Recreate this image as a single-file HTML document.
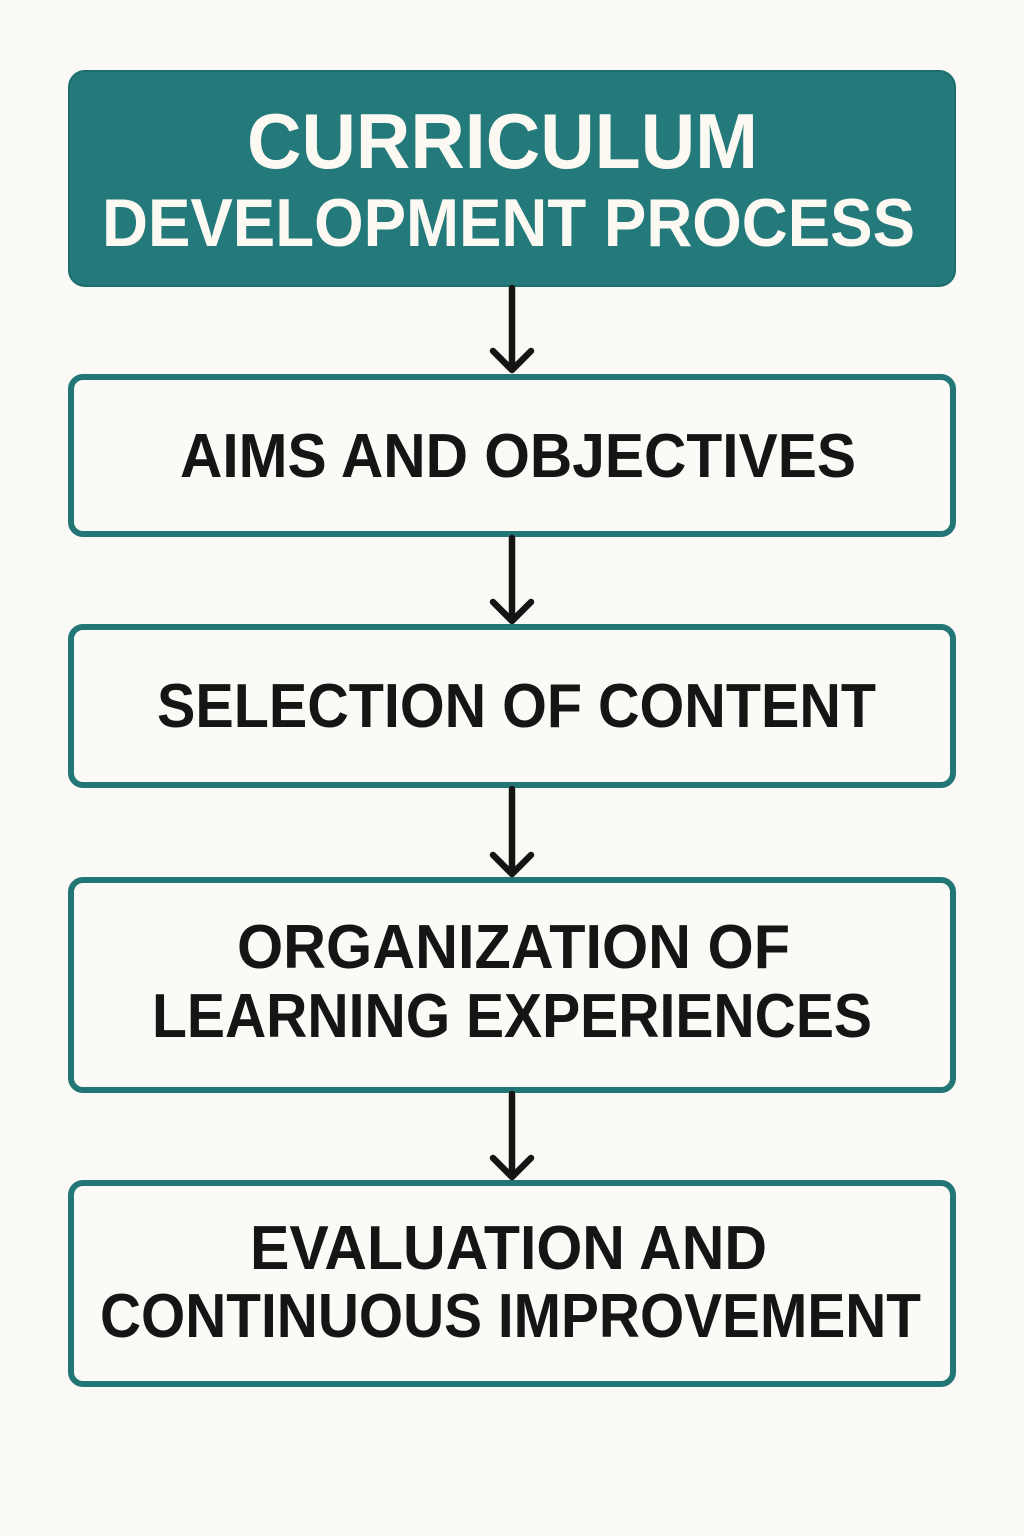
<!DOCTYPE html>
<html>
<head>
<meta charset="utf-8">
<style>
  html, body { margin: 0; padding: 0; background: #fbf9f5; }
  body { width: 1024px; height: 1536px; overflow: hidden; }
  svg { display: block; }
  text { font-family: "Liberation Sans", "DejaVu Sans", sans-serif; font-weight: bold; }
</style>
</head>
<body>
<svg width="1024" height="1536" viewBox="0 0 1024 1536" xmlns="http://www.w3.org/2000/svg">
  <rect x="0" y="0" width="1024" height="1536" fill="#fbf9f5"/>

  <!-- Header -->
  <rect x="69" y="71" width="886" height="215" rx="16" ry="16" fill="#247a7a" stroke="#1c6d6d" stroke-width="2"/>
  <text x="247" y="168" font-size="78" fill="#fcf9f3" textLength="511" lengthAdjust="spacingAndGlyphs">CURRICULUM</text>
  <text x="102" y="246" font-size="68" fill="#fcf9f3" textLength="813" lengthAdjust="spacingAndGlyphs">DEVELOPMENT PROCESS</text>

  <!-- Boxes -->
  <g fill="#fcfaf6" stroke="#227676" stroke-width="6">
    <rect x="71" y="377" width="882" height="157" rx="12" ry="12"/>
    <rect x="71" y="627" width="882" height="158" rx="12" ry="12"/>
    <rect x="71" y="880" width="882" height="210" rx="12" ry="12"/>
    <rect x="71" y="1183" width="882" height="201" rx="12" ry="12"/>
  </g>

  <!-- Arrows -->
  <g stroke="#141414" stroke-width="6.5" fill="none" stroke-linecap="round" stroke-linejoin="round">
    <line x1="512" y1="288" x2="512" y2="369"/>
    <polyline points="493,351 512,370 531,351"/>
    <line x1="512" y1="538" x2="512" y2="620"/>
    <polyline points="493,602 512,621 531,602"/>
    <line x1="512" y1="789" x2="512" y2="873"/>
    <polyline points="493,855 512,874 531,855"/>
    <line x1="512" y1="1094" x2="512" y2="1176"/>
    <polyline points="493,1158 512,1177 531,1158"/>
  </g>

  <!-- Box labels -->
  <g fill="#151515">
    <text x="180" y="477" font-size="62" textLength="676" lengthAdjust="spacingAndGlyphs">AIMS AND OBJECTIVES</text>
    <text x="157" y="727" font-size="62" textLength="719" lengthAdjust="spacingAndGlyphs">SELECTION OF CONTENT</text>
    <text x="237" y="968" font-size="62" textLength="553" lengthAdjust="spacingAndGlyphs">ORGANIZATION OF</text>
    <text x="152" y="1037" font-size="62" textLength="720" lengthAdjust="spacingAndGlyphs">LEARNING EXPERIENCES</text>
    <text x="250" y="1269" font-size="62" textLength="517" lengthAdjust="spacingAndGlyphs">EVALUATION AND</text>
    <text x="100" y="1337" font-size="62" textLength="821" lengthAdjust="spacingAndGlyphs">CONTINUOUS IMPROVEMENT</text>
  </g>
</svg>
</body>
</html>
